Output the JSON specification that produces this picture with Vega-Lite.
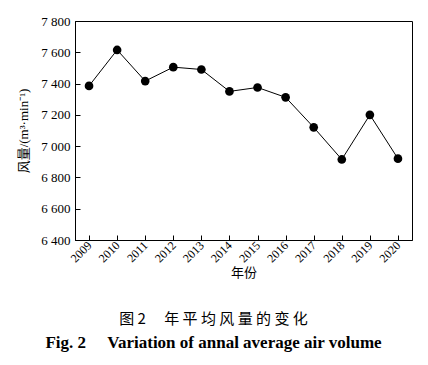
{
  "$schema": "https://vega.github.io/schema/vega-lite/v6.json",
  "autosize": {"type": "none"},
  "width": 337,
  "height": 219,
  "padding": {"left": 75, "top": 21, "right": 16, "bottom": 125},
  "background": "white",
  "config": {
    "view": {"stroke": "black", "strokeWidth": 1},
    "font": "Liberation Serif, Noto Sans CJK SC"
  },
  "title": {
    "text": "图 2　 年 平 均 风 量 的 变 化",
    "subtitle": "Fig. 2\u00a0\u00a0\u00a0\u00a0\u00a0Variation of annal average air volume",
    "orient": "bottom",
    "anchor": "middle",
    "frame": "group",
    "dx": -30,
    "offset": 33,
    "font": "Noto Sans CJK SC",
    "fontSize": 15,
    "fontWeight": "normal",
    "color": "black",
    "subtitleFont": "Liberation Serif",
    "subtitleFontSize": 17,
    "subtitleFontWeight": "bold",
    "subtitleColor": "black",
    "subtitlePadding": 8
  },
  "data": {
    "values": [
      {"year": 2009, "volume": 7385},
      {"year": 2010, "volume": 7615},
      {"year": 2011, "volume": 7416},
      {"year": 2012, "volume": 7505},
      {"year": 2013, "volume": 7490},
      {"year": 2014, "volume": 7350},
      {"year": 2015, "volume": 7375},
      {"year": 2016, "volume": 7312},
      {"year": 2017, "volume": 7120},
      {"year": 2018, "volume": 6915},
      {"year": 2019, "volume": 7200},
      {"year": 2020, "volume": 6920}
    ]
  },
  "encoding": {
    "x": {
      "field": "year",
      "type": "quantitative",
      "scale": {"domain": [2008.5, 2020.5], "nice": false, "zero": false},
      "axis": {
        "values": [2009, 2010, 2011, 2012, 2013, 2014, 2015, 2016, 2017, 2018, 2019, 2020],
        "format": "d",
        "title": "年份",
        "titleFont": "Noto Sans CJK SC",
        "titleFontSize": 13,
        "titleFontWeight": "normal",
        "titleColor": "black",
        "titlePadding": 2,
        "labelAngle": -45,
        "labelAlign": "right",
        "labelBaseline": "middle",
        "labelFontSize": 12,
        "labelColor": "black",
        "labelPadding": 8,
        "tickSize": -5,
        "tickColor": "black",
        "domainColor": "black",
        "grid": false
      }
    },
    "y": {
      "field": "volume",
      "type": "quantitative",
      "scale": {"domain": [6400, 7800], "nice": false, "zero": false},
      "axis": {
        "values": [6400, 6600, 6800, 7000, 7200, 7400, 7600, 7800],
        "labelExpr": "replace(format(datum.value, ','), ',', ' ')",
        "title": "风量/(m³·min⁻¹)",
        "titleFontSize": 13,
        "titleFontWeight": "normal",
        "titleColor": "black",
        "titlePadding": 10,
        "labelFontSize": 13,
        "labelColor": "black",
        "labelPadding": 10,
        "tickSize": -5,
        "tickColor": "black",
        "domainColor": "black",
        "grid": false
      }
    }
  },
  "layer": [
    {"mark": {"type": "line", "color": "black", "strokeWidth": 1}},
    {"mark": {"type": "point", "filled": true, "color": "black", "opacity": 1, "size": 75}}
  ]
}
